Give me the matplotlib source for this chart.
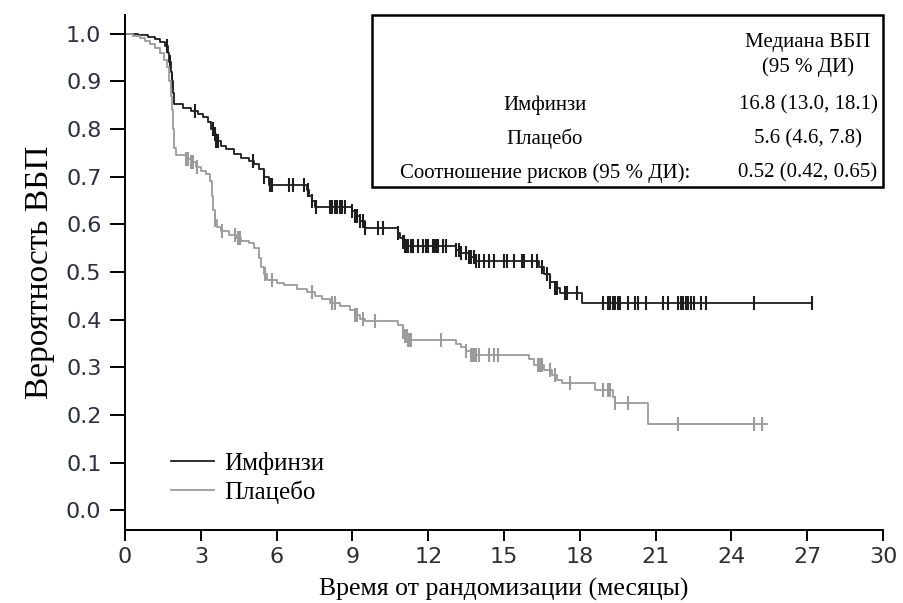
import numpy as np
import matplotlib
matplotlib.use("Agg")
import matplotlib.pyplot as plt
from matplotlib.patches import Rectangle

# Кривые Каплана-Мейера (время в месяцах, вероятность ВБП после ступени)
imf_t = [0, 0.5, 0.9, 1.2, 1.4, 1.6, 1.7, 1.75, 1.8, 1.85, 1.9, 1.95, 2.3, 2.6, 2.9,
         3.1, 3.3, 3.4, 3.5, 3.6, 3.8, 4.0, 4.3, 4.6, 4.9, 5.1, 5.3, 5.5, 5.7,
         7.2, 7.3, 7.4, 7.5, 9.0, 9.1, 9.3, 9.5, 10.8, 10.9, 11.0, 11.1,
         13.1, 13.3, 13.6, 13.9, 16.4, 16.6, 16.8, 17.0, 17.2, 18.1]
imf_s = [1.0, 0.997, 0.993, 0.988, 0.982, 0.975, 0.96, 0.94, 0.92, 0.90, 0.875, 0.852, 0.845, 0.838, 0.832,
         0.825, 0.815, 0.80, 0.79, 0.775, 0.765, 0.757, 0.748, 0.74, 0.733, 0.727, 0.717, 0.70, 0.683,
         0.672, 0.66, 0.648, 0.637, 0.628, 0.618, 0.607, 0.592, 0.582, 0.572, 0.563, 0.555,
         0.547, 0.54, 0.532, 0.524, 0.51, 0.495, 0.48, 0.467, 0.456, 0.435]
imf_end = 27.2
imf_cens = [1.66, 1.78, 1.86, 2.77, 3.48, 3.56, 3.62, 3.68, 5.07, 5.5, 5.72, 5.8, 6.5, 6.65,
            7.1, 7.25, 7.4, 7.55, 8.1, 8.2, 8.3, 8.4, 8.5, 8.6, 8.7, 9.0, 9.1, 9.2, 9.3, 9.4,
            9.5, 10.0, 10.2, 10.8, 11.0, 11.05, 11.1, 11.15, 11.2, 11.3, 11.4, 11.6, 11.8,
            11.9, 12.0, 12.2, 12.25, 12.3, 12.4, 12.6, 12.7, 13.1, 13.2, 13.3, 13.5, 13.6,
            13.7, 13.8, 13.9, 14.0, 14.2, 14.4, 14.6, 15.0, 15.1, 15.4, 15.7, 15.75, 15.8,
            16.1, 16.3, 16.5, 16.7, 16.8, 17.0, 17.1, 17.4, 17.5, 17.9, 18.9, 19.1, 19.2,
            19.3, 19.4, 19.5, 19.6, 19.9, 20.2, 20.3, 20.6, 21.3, 21.5, 21.9, 22.0, 22.1,
            22.2, 22.3, 22.4, 22.5, 22.8, 23.0, 24.9, 27.2]

plc_t = [0, 0.3, 0.6, 0.8, 1.0, 1.2, 1.4, 1.55, 1.65, 1.75, 1.8, 1.85, 1.9, 1.95, 2.0,
         2.4, 2.6, 2.8, 3.0, 3.2, 3.35, 3.45, 3.5, 3.55, 3.65, 3.8, 4.1, 4.4, 4.6, 4.9,
         5.1, 5.3, 5.4, 5.5, 5.6, 6.0, 6.3, 6.8, 7.2, 7.5, 7.8, 8.1, 8.5, 8.9, 9.1, 9.3,
         9.5, 10.8, 11.0, 11.1, 11.2, 13.1, 13.3, 13.5, 13.7, 16.0, 16.2, 16.6, 16.9,
         17.1, 17.3, 18.6, 19.3, 19.4, 20.7]
plc_s = [1.0, 0.995, 0.99, 0.985, 0.978, 0.97, 0.96, 0.945, 0.93, 0.90, 0.87, 0.84, 0.80, 0.76, 0.745,
         0.738, 0.73, 0.72, 0.712, 0.705, 0.69, 0.66, 0.63, 0.61, 0.595, 0.585, 0.578, 0.572, 0.565, 0.56,
         0.55, 0.53, 0.51, 0.495, 0.483, 0.478, 0.472, 0.465, 0.458, 0.45, 0.443, 0.435, 0.428, 0.42, 0.41, 0.402,
         0.397, 0.388, 0.375, 0.365, 0.357, 0.35, 0.343, 0.335, 0.326, 0.318, 0.305, 0.295, 0.285,
         0.274, 0.267, 0.253, 0.238, 0.225, 0.181]
plc_end = 25.4
plc_cens = [2.4, 2.5, 2.6, 2.7, 2.85, 3.56, 3.84, 4.35, 4.47, 4.55, 5.54, 5.8, 7.4, 8.2, 8.3,
            9.1, 9.2, 9.4, 9.9, 11.0, 11.1, 11.15, 11.2, 11.25, 11.3, 12.5, 13.5, 13.7, 13.75,
            13.8, 13.85, 13.9, 14.0, 14.4, 14.6, 14.75, 16.35, 16.4, 16.45, 16.5, 16.8, 17.0,
            17.6, 18.9, 19.1, 19.2, 19.4, 19.9, 21.9, 24.9, 25.2]

box_rows = ["Имфинзи", "Плацебо", "Соотношение рисков (95 % ДИ):"]
box_vals = ["16.8 (13.0, 18.1)", "5.6 (4.6, 7.8)", "0.52 (0.42, 0.65)"]

c_imf = "#1e1e1e"
c_plc = "#9b9b9b"
serif = ["Liberation Serif", "DejaVu Serif"]


def km_draw(ax, t, s, end, cens, color, label):
    tt = np.append(t, end)
    ss = np.append(s, s[-1])
    ax.step(tt, ss, where="post", color=color, lw=1.3, label=label)
    idx = np.searchsorted(t, cens, side="right") - 1
    cy = np.array(s)[idx]
    ax.plot(cens, cy, ls="none", marker="|", ms=10, mew=1.5, color=color)


fig = plt.figure(figsize=(9.04, 6.03), dpi=100)
ax = fig.add_axes([0.1383, 0.1211, 0.8385, 0.854])

km_draw(ax, imf_t, imf_s, imf_end, imf_cens, c_imf, "Имфинзи")
km_draw(ax, plc_t, plc_s, plc_end, plc_cens, c_plc, "Плацебо")

ax.set_xlim(0, 30)
ax.set_ylim(-0.041, 1.039)
ax.set_xticks(np.arange(0, 31, 3))
ax.set_yticks(np.arange(0, 1.01, 0.1))
ax.set_yticklabels(["%.1f" % v for v in np.arange(0, 1.01, 0.1)])
for sp in ["top", "right"]:
    ax.spines[sp].set_visible(False)
for sp in ["left", "bottom"]:
    ax.spines[sp].set_linewidth(1.4)
ax.tick_params(axis="y", length=11, width=1.4, pad=6, labelsize=16, labelcolor="#2e2e44")
ax.tick_params(axis="x", length=8, width=1.4, pad=4, labelsize=16, labelcolor="#2e2e2e")

ax.set_xlabel("Время от рандомизации (месяцы)", fontsize=18.5, family=serif, labelpad=8)
ax.set_ylabel("Вероятность ВБП", fontsize=24, family=serif, labelpad=8)

leg = ax.legend(loc="center left", bbox_to_anchor=(0.061, 0.101), frameon=False,
                prop={"family": serif, "size": 18}, handlelength=1.7, handletextpad=0.4,
                labelspacing=0.2, borderpad=0, borderaxespad=0)

# рамка с медианами
ax.add_patch(Rectangle((0.326, 0.666), 0.674, 0.334, transform=ax.transAxes,
                       fill=False, lw=1.8, ec="black", clip_on=False))
ax.text(0.901, 0.947, "Медиана ВБП", transform=ax.transAxes, ha="center", va="center",
        fontsize=15, family=serif)
ax.text(0.901, 0.899, "(95 % ДИ)", transform=ax.transAxes, ha="center", va="center",
        fontsize=15, family=serif)
for i, (r, v) in enumerate(zip(box_rows, box_vals)):
    y = 0.825 - i * 0.066
    ax.text(0.554, y, r, transform=ax.transAxes, ha="center", va="center", fontsize=15, family=serif)
    ax.text(0.901, y, v, transform=ax.transAxes, ha="center", va="center", fontsize=15, family=serif)

fig.savefig("out.png", dpi=100)
